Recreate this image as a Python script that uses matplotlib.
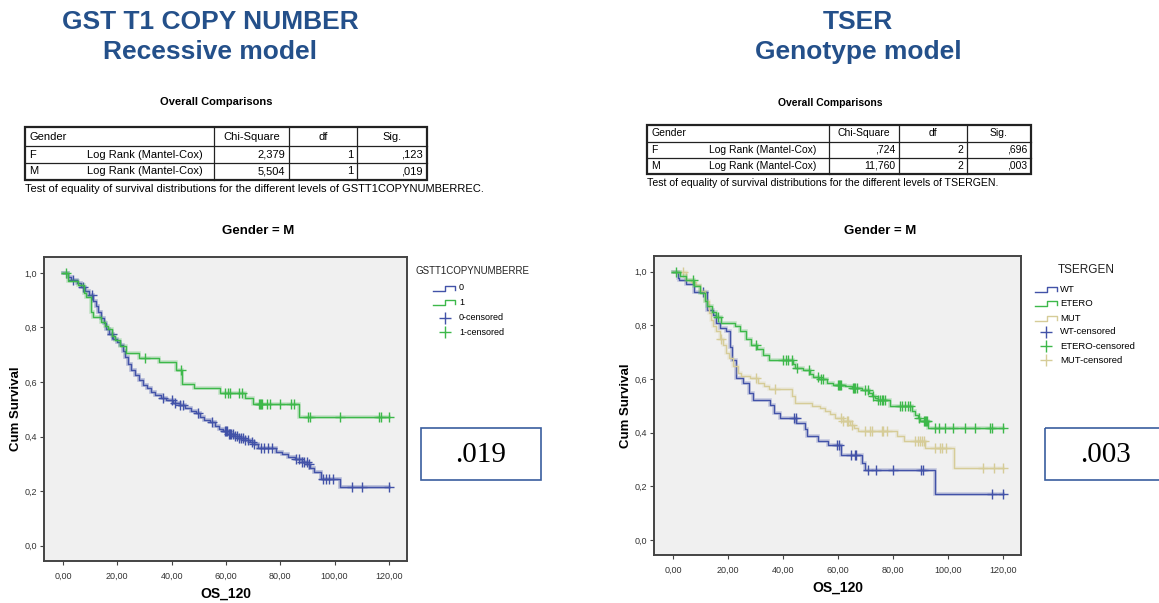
import numpy as np
import matplotlib
matplotlib.use('Agg')
import matplotlib.pyplot as plt
from matplotlib.patches import Rectangle
from matplotlib.ticker import FuncFormatter

plt.rcParams['font.family'] = ['Liberation Sans', 'DejaVu Sans']

# ---- left panel: GSTT1 copy number, males ----
g0_t = [0, 2.0, 3.0, 5.0, 6.5, 8.0, 9.5, 11.0, 12.0, 13.0, 14.0, 15.0, 16.0, 17.0, 18.5,
        20.0, 21.0, 22.0, 23.0, 24.0, 25.0, 26.5, 28.0, 29.5, 31.0, 32.5, 34.0, 36.0, 38.0,
        40.5, 43.0, 45.0, 47.0, 49.0, 50.5, 52.0, 54.0, 56.0, 57.5, 59.0, 61.0, 63.0, 65.0,
        67.0, 69.0, 70.5, 72.0, 78.5, 80.5, 83.0, 85.5, 88.0, 90.0, 91.0, 92.5, 95.0, 102.0]
g0_s = [1.0, 0.985, 0.975, 0.962, 0.948, 0.935, 0.918, 0.898, 0.878, 0.858, 0.835, 0.815,
        0.795, 0.775, 0.757, 0.745, 0.735, 0.715, 0.69, 0.665, 0.645, 0.625, 0.607, 0.59,
        0.577, 0.565, 0.553, 0.543, 0.533, 0.524, 0.515, 0.505, 0.495, 0.485, 0.47, 0.462,
        0.452, 0.44, 0.428, 0.42, 0.41, 0.402, 0.396, 0.388, 0.38, 0.372, 0.358, 0.345,
        0.335, 0.326, 0.318, 0.308, 0.298, 0.285, 0.27, 0.245, 0.217]
g0_cens = [3.8, 7.2, 10.6, 17.9, 36.9, 40.0, 41.2, 43.1, 44.3, 49.6, 54.7, 59.5, 60.0, 60.5,
           61.0, 61.5, 62.0, 62.7, 63.5, 64.0, 65.0, 65.5, 66.4, 67.0, 68.0, 69.5, 70.5, 73.1,
           74.2, 75.5, 76.8, 86.0, 87.0, 88.0, 88.8, 89.7, 90.5, 95.8, 97.0, 98.0, 99.5,
           106.3, 110.0, 120.0]

g1_t = [0, 1.8, 5.4, 7.7, 8.4, 10.2, 11.2, 14.0, 15.5, 16.5, 17.9, 19.1, 21.0, 23.2, 27.9,
        35.3, 41.8, 44.0, 48.3, 57.8, 67.0, 70.1, 87.0]
g1_s = [1.0, 0.971, 0.955, 0.925, 0.91, 0.857, 0.837, 0.821, 0.806, 0.794, 0.77, 0.755,
        0.732, 0.705, 0.689, 0.672, 0.645, 0.593, 0.577, 0.561, 0.540, 0.520, 0.473]
g1_cens = [1.1, 30.2, 43.6, 59.6, 60.9, 61.5, 64.8, 66.1, 72.3, 72.6, 72.9, 73.2, 75.3, 76.2,
           79.9, 84.1, 85.0, 90.3, 90.9, 102.0, 116.3, 117.0, 120.0]

# ---- right panel: TSER genotype, males ----
wt_t = [0, 1.7, 2.0, 4.5, 7.4, 12.2, 14.4, 15.7, 17.2, 19.1, 20.8, 21.5, 22.7, 25.4, 27.6,
        29.1, 35.4, 36.6, 39.0, 44.9, 48.1, 48.7, 52.8, 56.5, 61.3, 68.6, 69.8, 95.5]
wt_s = [1.0, 0.976, 0.968, 0.955, 0.923, 0.858, 0.84, 0.81, 0.79, 0.778, 0.72, 0.672, 0.604,
        0.585, 0.548, 0.523, 0.504, 0.473, 0.455, 0.437, 0.415, 0.389, 0.37, 0.354, 0.318,
        0.287, 0.26, 0.173]
wt_cens = [10.8, 43.9, 44.6, 59.5, 60.5, 64.6, 66.2, 66.6, 70.8, 73.8, 80.2, 90.3, 90.9,
           116.2, 120.0]

et_t = [0, 2.3, 4.5, 7.7, 9.6, 11.4, 12.2, 14.0, 15.5, 17.5, 22.4, 24.2, 26.6, 28.4, 30.5,
        32.7, 34.9, 43.5, 44.3, 47.3, 50.0, 51.0, 53.0, 55.9, 58.1, 62.6, 65.0, 68.7, 71.5,
        72.3, 73.5, 74.5, 79.0, 86.9, 88.2, 89.0, 90.0, 93.0]
et_s = [1.0, 0.983, 0.97, 0.945, 0.92, 0.889, 0.871, 0.85, 0.83, 0.809, 0.796, 0.778, 0.747,
        0.728, 0.71, 0.69, 0.67, 0.655, 0.641, 0.633, 0.62, 0.607, 0.598, 0.585, 0.578,
        0.573, 0.568, 0.56, 0.548, 0.536, 0.53, 0.523, 0.5, 0.48, 0.467, 0.455, 0.442, 0.418]
et_cens = [1.0, 7.1, 16.3, 30.0, 40.0, 41.0, 41.8, 43.1, 45.0, 49.5, 52.8, 54.0, 54.4, 60.1,
           60.5, 60.9, 61.3, 65.6, 66.0, 66.4, 66.8, 69.9, 71.1, 72.8, 74.7, 75.3, 75.9, 76.5,
           77.2, 82.7, 83.5, 84.5, 85.5, 86.3, 89.4, 91.2, 91.6, 92.0, 92.4, 95.5, 96.7, 99.1,
           102.1, 106.4, 110.0, 115.5, 116.2, 120.0]

mut_t = [0, 4.7, 6.5, 8.3, 9.6, 11.4, 13.2, 13.8, 14.4, 15.7, 17.0, 18.1, 19.3, 20.5, 21.7,
         23.6, 24.8, 27.8, 30.9, 33.0, 35.0, 43.1, 44.3, 50.4, 53.4, 55.3, 57.0, 59.0, 62.0,
         64.5, 66.0, 67.4, 81.4, 83.9, 91.8, 102.4]
mut_s = [1.0, 0.97, 0.96, 0.951, 0.927, 0.89, 0.846, 0.821, 0.796, 0.778, 0.747, 0.728,
         0.697, 0.678, 0.647, 0.622, 0.612, 0.603, 0.585, 0.575, 0.563, 0.535, 0.51, 0.498,
         0.49, 0.479, 0.468, 0.455, 0.445, 0.43, 0.418, 0.405, 0.386, 0.368, 0.343, 0.27]
mut_cens = [3.5, 17.5, 30.0, 37.0, 61.0, 62.0, 63.2, 63.8, 65.0, 70.0, 71.7, 72.3, 76.0, 76.6,
            78.0, 88.1, 89.0, 89.8, 90.5, 91.2, 95.5, 97.3, 97.9, 99.5, 112.7, 117.0, 120.0]

x_ticks = [0, 20, 40, 60, 80, 100, 120]
y_ticks = [0.0, 0.2, 0.4, 0.6, 0.8, 1.0]

tab_header = ['Gender', 'Chi-Square', 'df', 'Sig.']
tab_left = [['F', 'Log Rank (Mantel-Cox)', '2,379', '1', ',123'],
            ['M', 'Log Rank (Mantel-Cox)', '5,504', '1', ',019']]
tab_right = [['F', 'Log Rank (Mantel-Cox)', ',724', '2', ',696'],
             ['M', 'Log Rank (Mantel-Cox)', '11,760', '2', ',003']]

BLUE = '#4252A8'
GREEN = '#3DB84A'
TAN = '#D6CC98'
TITLE = '#24508A'


def surv_at(t, s, x):
    idx = np.searchsorted(t, x, side='right') - 1
    return np.asarray(s)[idx]


def km(ax, t, s, cens, color, halo=0.25):
    tt = list(t) + [max(cens)]
    ss = list(s) + [s[-1]]
    ax.plot(tt, ss, drawstyle='steps-post', color=color, lw=2.6, alpha=halo,
            solid_joinstyle='miter')
    ax.plot(tt, ss, drawstyle='steps-post', color=color, lw=1.0)
    ax.plot(cens, surv_at(t, s, cens), '+', color=color, ms=7, mew=1.0)


def style(ax):
    ax.set_facecolor('#F0F0F0')
    ax.set_xlim(-7, 126.7)
    ax.set_ylim(-0.056, 1.058)
    ax.set_xticks(x_ticks)
    ax.set_yticks(y_ticks)
    ax.xaxis.set_major_formatter(FuncFormatter(lambda v, p: f'{v:.2f}'.replace('.', ',')))
    ax.yaxis.set_major_formatter(FuncFormatter(lambda v, p: f'{v:.1f}'.replace('.', ',')))
    ax.tick_params(direction='out', length=3, width=0.8, color='#444444',
                   labelsize=6.5, labelcolor='#333333', pad=2)
    ax.tick_params(axis='x', pad=5)
    for sp in ax.spines.values():
        sp.set_color('#444444')
        sp.set_linewidth(1.4)
    ax.set_xlabel('OS_120', fontsize=10, fontweight='bold', labelpad=4)
    ax.set_ylabel('Cum Survival', fontsize=9.5, fontweight='bold', labelpad=2)


fig = plt.figure(figsize=(11.59, 6.03), dpi=100)
W, H = 1159, 603

axL = fig.add_axes([44 / W, 1 - 561 / H, 363 / W, 304 / H])
axR = fig.add_axes([654 / W, 1 - 555 / H, 367 / W, 299 / H])
style(axL)
style(axR)

km(axL, g0_t, g0_s, g0_cens, BLUE, 0.35)
km(axL, g1_t, g1_s, g1_cens, GREEN)
km(axR, wt_t, wt_s, wt_cens, BLUE)
km(axR, mut_t, mut_s, mut_cens, TAN, 0.2)
km(axR, et_t, et_s, et_cens, GREEN)

# overlay in pixel coordinates for the slide texts, tables and legends
ov = fig.add_axes([0, 0, 1, 1])
ov.set_xlim(0, W)
ov.set_ylim(H, 0)
ov.axis('off')
ov.patch.set_visible(False)

ov.text(210, 22, 'GST T1 COPY NUMBER', ha='center', va='center', fontsize=19,
        fontweight='bold', color=TITLE)
ov.text(210, 52, 'Recessive model', ha='center', va='center', fontsize=19,
        fontweight='bold', color=TITLE)
ov.text(858, 22, 'TSER', ha='center', va='center', fontsize=19,
        fontweight='bold', color=TITLE)
ov.text(858, 52, 'Genotype model', ha='center', va='center', fontsize=19,
        fontweight='bold', color=TITLE)


def table(x0, cols, rows_y, body, fs, caption, cap_y, cap_fs, title_x, title_y, tfs):
    ov.text(title_x, title_y, 'Overall Comparisons', ha='center', va='center',
            fontsize=tfs, fontweight='bold')
    x1 = cols[-1]
    y0, y1 = rows_y[0], rows_y[-1]
    ov.add_patch(Rectangle((x0, y0), x1 - x0, y1 - y0, fill=False, lw=1.6, ec='#222222'))
    for y in rows_y[1:-1]:
        ov.plot([x0, x1], [y, y], color='#222222', lw=0.9)
    for x in cols[:-1]:
        ov.plot([x, x], [y0, y1], color='#222222', lw=0.9)
    edges = [x0] + list(cols)
    ym = (rows_y[0] + rows_y[1]) / 2
    ov.text(x0 + 4, ym, tab_header[0], ha='left', va='center', fontsize=fs)
    for i, h in enumerate(tab_header[1:]):
        ov.text((edges[i + 1] + edges[i + 2]) / 2, ym, h, ha='center', va='center', fontsize=fs)
    for r, row in enumerate(body):
        ym = (rows_y[r + 1] + rows_y[r + 2]) / 2
        ov.text(x0 + 4, ym, row[0], ha='left', va='center', fontsize=fs)
        ov.text(x0 + 62, ym, row[1], ha='left', va='center', fontsize=fs)
        for j, v in enumerate(row[2:]):
            ov.text(edges[j + 2] - 4, ym, v, ha='right', va='center', fontsize=fs)
    ov.text(x0, cap_y, caption, ha='left', va='center', fontsize=cap_fs)


table(25, [214, 289, 357, 427], [127, 146, 163, 180], tab_left, 8.0,
      'Test of equality of survival distributions for the different levels of GSTT1COPYNUMBERREC.',
      189, 8.0, 216, 102, 8.0)
table(647, [829, 899, 967, 1031], [125, 142, 158, 174], tab_right, 7.5,
      'Test of equality of survival distributions for the different levels of TSERGEN.',
      183, 7.6, 830, 103, 7.5)

ov.text(258, 231, 'Gender = M', ha='center', va='center', fontsize=9.5, fontweight='bold')
ov.text(880, 231, 'Gender = M', ha='center', va='center', fontsize=9.5, fontweight='bold')


def legend_step(x, y, color):
    ov.plot([x, x + 12, x + 12, x + 22, x + 22], [y + 2.5, y + 2.5, y - 2.5, y - 2.5, y + 1.5],
            color=color, lw=1.0)


ov.text(415, 271, 'GSTT1COPYNUMBERRE', ha='left', va='center', fontsize=7, color='#222222')
leg_left = [('0', BLUE), ('1', GREEN)]
for i, (lab, c) in enumerate(leg_left):
    y = 288 + i * 14.5
    legend_step(433, y, c)
    ov.text(459, y, lab, ha='left', va='center', fontsize=6.5)
for i, (lab, c) in enumerate(leg_left):
    y = 317.5 + i * 14.8
    ov.plot([445], [y], '+', color=c, ms=8, mew=1.0)
    ov.text(459, y, lab + '-censored', ha='left', va='center', fontsize=6.5)

ov.text(1058, 270, 'TSERGEN', ha='left', va='center', fontsize=8.5, color='#222222')
leg_right = [('WT', BLUE), ('ETERO', GREEN), ('MUT', TAN)]
for i, (lab, c) in enumerate(leg_right):
    y = 289.5 + i * 14.4
    legend_step(1035, y, c)
    ov.text(1060, y, lab, ha='left', va='center', fontsize=6.8)
for i, (lab, c) in enumerate(leg_right):
    y = 332 + i * 14.2
    ov.plot([1046], [y], '+', color=c, ms=8, mew=1.0)
    ov.text(1060, y, lab + '-censored', ha='left', va='center', fontsize=6.8)

# p-value boxes
ov.add_patch(Rectangle((421, 428), 120, 52, fill=False, lw=1.2, ec='#3A5E9E'))
ov.text(481, 455, '.019', ha='center', va='center', fontsize=21, family='Liberation Serif')
ov.add_patch(Rectangle((1045, 428), 130, 52, fill=False, lw=1.2, ec='#3A5E9E', clip_on=True))
ov.text(1105, 455, '.003', ha='center', va='center', fontsize=21, family='Liberation Serif')

fig.savefig('out.png', dpi=100, facecolor='white')
